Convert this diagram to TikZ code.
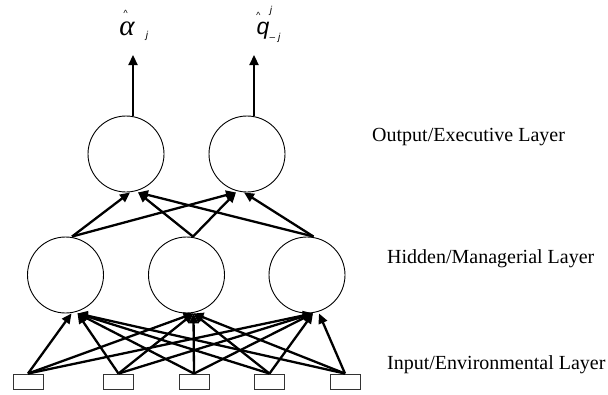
\documentclass[tikz,border=0pt]{standalone}
\usepackage{fontspec}
\setmainfont{Liberation Serif}
\newfontfamily\lsans{Liberation Sans}
\usetikzlibrary{arrows.meta}
\newcommand\hatmark[2]{\makebox[0pt][l]{\hspace*{#1}\raisebox{#2}{\lsans\fontsize{9}{10}\selectfont\textasciicircum}}}
\begin{document}
\begin{tikzpicture}[x=1pt,y=-1pt,
  neuron/.style={circle,draw,line width=0.9pt,minimum size=76pt,inner sep=0pt},
  inbox/.style={draw,black!80,line width=0.9pt,minimum width=30pt,minimum height=15pt,inner sep=0pt},
  conn/.style={line width=2.3pt,-{Triangle[length=10pt,width=9pt]}},
  lab/.style={font=\fontsize{20}{24}\selectfont,anchor=base west,inner sep=0pt},
  sym/.style={inner sep=0pt,anchor=base}]
\useasboundingbox (0,0) rectangle (608,394);
% nodes
\node[neuron] (o1) at (126,154) {};
\node[neuron] (o2) at (247,154) {};
\node[neuron] (h1) at (65.5,275) {};
\node[neuron] (h2) at (186.5,275) {};
\node[neuron] (h3) at (307,275) {};
\node[inbox] (i1) at (28,381.5) {};
\node[inbox] (i2) at (118.5,381.5) {};
\node[inbox] (i3) at (194,381.5) {};
\node[inbox] (i4) at (269.5,381.5) {};
\node[inbox] (i5) at (345,381.5) {};
% output labels
\node[sym,font=\fontsize{29}{32}\selectfont\itshape] (al) at (127,35) {\hatmark{4pt}{19pt}α};
\node[sym,font=\lsans\fontsize{10}{12}\selectfont\itshape] (alj) at (147,38) {j};
\node[sym,font=\lsans\fontsize{23}{26}\selectfont\itshape] (q) at (263,34) {\hatmark{-0.5pt}{16pt}q};
\node[sym,font=\lsans\fontsize{10}{12}\selectfont\itshape] (qj) at (271,13) {j};
\node[sym,font=\lsans\fontsize{10}{12}\selectfont\itshape] (qmj) at (275,40) {– j};
% layer labels
\node[lab] (lo) at (372,141) {Output/Executive Layer};
\node[lab] (lh) at (387,263) {Hidden/Managerial Layer};
\node[lab] (li) at (387,369) {Input/Environmental Layer};
% output arrows
\coordinate (a1) at (133,55);
\coordinate (a2) at (254,55);
\draw[conn] ([xshift=7pt]o1.north) -- (a1);
\draw[conn] ([xshift=7pt]o2.north) -- (a2);
% hidden -> output
\draw[conn] ([xshift=6.5pt]h1.north) -- ([xshift=4pt]o1.south);
\draw[conn] ([xshift=6.5pt]h2.north) -- ([xshift=12pt]o1.south);
\draw[conn] ([xshift=6.5pt]h3.north) -- ([xshift=12pt]o1.south);
\draw[conn] ([xshift=6.5pt]h1.north) -- ([xshift=-11pt]o2.south);
\draw[conn] ([xshift=6.5pt]h2.north) -- ([xshift=-11pt]o2.south);
\draw[conn] ([xshift=6.5pt]h3.north) -- ([xshift=-3pt]o2.south);
% input -> hidden
\foreach \i in {1,...,5}{
  \draw[conn] (i\i.north) -- ([xshift=7pt]h2.south);
}
\draw[conn] (i1.north) -- ([xshift=6pt]h1.south);
\foreach \i in {2,...,5}{
  \draw[conn] (i\i.north) -- ([xshift=12pt]h1.south);
}
\foreach \i in {1,...,4}{
  \draw[conn] (i\i.north) -- ([xshift=6pt]h3.south);
}
\draw[conn] (i5.north) -- ([xshift=12pt]h3.south);
\end{tikzpicture}
\end{document}
